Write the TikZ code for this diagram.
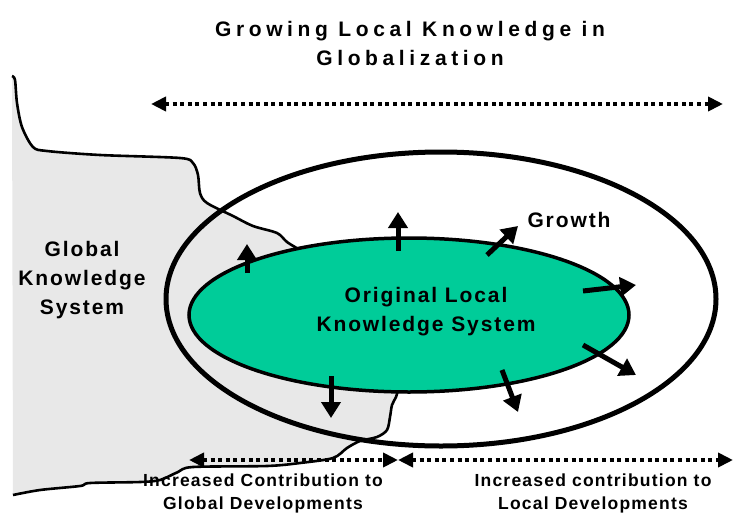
\documentclass[tikz,border=0pt]{standalone}
\usepackage{fontspec}
\setmainfont{Liberation Sans}
\newfontfamily\titlefont[LetterSpace=22]{Liberation Sans}
\newfontfamily\bodyfont[LetterSpace=9]{Liberation Sans}
\newfontfamily\notefont[LetterSpace=7]{Liberation Sans}
\usetikzlibrary{arrows.meta}
\definecolor{localgreen}{RGB}{0,204,153}
\definecolor{globalgray}{RGB}{232,232,232}
\tikzset{
	growarrow/.style={line width=5pt, -{Triangle[length=16pt, width=19pt]}},
	spanarrow/.style={line width=4pt, dash pattern=on 4pt off 3.6pt, {Triangle[length=15pt, width=14pt]}-{Triangle[length=15pt, width=14pt]}},
	bigtext/.style={font=\titlefont\bfseries\fontsize{21}{29}\selectfont, align=center},
	midtext/.style={font=\bodyfont\bfseries\fontsize{21}{29}\selectfont, align=center},
	smalltext/.style={font=\notefont\bfseries\fontsize{17.5}{23}\selectfont, align=center}
}

\begin{document}
\begin{tikzpicture}[x=1pt, y=-1pt]
		%%%%% START %%%%%
		\useasboundingbox (0, 0) rectangle (733, 514);
		
		% global knowledge area
		\fill[globalgray] plot[smooth, tension=0.5] coordinates {(12, 76) (15, 80) (17, 103) (22, 127) (33, 147) (47, 151) (100, 155) (180, 158) (193, 163) (198, 175) (200, 193) (207, 203) (233, 216) (253, 226) (277, 233) (287, 242) (300, 250)}
			-- plot[smooth, tension=0.5] coordinates {(398, 390) (396, 397) (392, 405) (390, 417) (387, 430) (377, 437) (360, 441) (347, 448) (333, 458) (300, 463) (267, 466) (193, 467) (178, 472) (160, 480) (140, 482) (90, 483) (80, 486) (40, 490) (13, 495)}
			-- cycle;
		\draw[line width=2.6pt] plot[smooth, tension=0.5] coordinates {(12, 76) (15, 80) (17, 103) (22, 127) (33, 147) (47, 151) (100, 155) (180, 158) (193, 163) (198, 175) (200, 193) (207, 203) (233, 216) (253, 226) (277, 233) (287, 242) (300, 250)};
		\draw[line width=2.6pt] plot[smooth, tension=0.5] coordinates {(398, 390) (396, 397) (392, 405) (390, 417) (387, 430) (377, 437) (360, 441) (347, 448) (333, 458) (300, 463) (267, 466) (193, 467) (178, 472) (160, 480) (140, 482) (90, 483) (80, 486) (40, 490) (13, 495)};
		
		% grown system and original system
		\draw[line width=5pt] (441, 299) ellipse [x radius=275, y radius=147];
		\draw[line width=3.5pt, fill=localgreen] (409, 315) ellipse [x radius=220, y radius=77];
		
		% growth arrows
		\draw[growarrow] (247, 273) -- (247, 244);
		\draw[growarrow] (398, 251) -- (398, 212);
		\draw[growarrow] (487, 255) -- (518, 226);
		\draw[growarrow] (583, 291) -- (636, 285);
		\draw[growarrow] (583, 345) -- (636, 375);
		\draw[growarrow] (502, 370) -- (518, 412);
		\draw[growarrow] (331, 376) -- (331, 418);
		
		% labels
		\node[bigtext] (title) at (410, 43) {Growing Local Knowledge in\\Globalization};
		\node[midtext] (global) at (82, 280) {Global\\Knowledge\\System};
		\node[midtext] (local) at (426, 312) {Original Local\\Knowledge System};
		\node[midtext, anchor=west] (growth) at (524, 220) {Growth};
		\node[smalltext] (toglobal) at (263, 493) {Increased Contribution to\\Global Developments};
		\node[smalltext] (tolocal) at (593, 493) {Increased contribution to\\Local Developments};
		
		% spans
		\coordinate (topleft) at (151, 104);
		\coordinate (topright) at (723, 104);
		\coordinate (botleft) at (189, 460);
		\coordinate (botmid) at (398, 460);
		\coordinate (botright) at (733, 460);
		\draw[spanarrow] (topleft) -- (topright);
		\draw[spanarrow] (botleft) -- (botmid);
		\draw[spanarrow] (botmid) -- (botright);
		%%%%% END %%%%%
\end{tikzpicture}
\end{document}
